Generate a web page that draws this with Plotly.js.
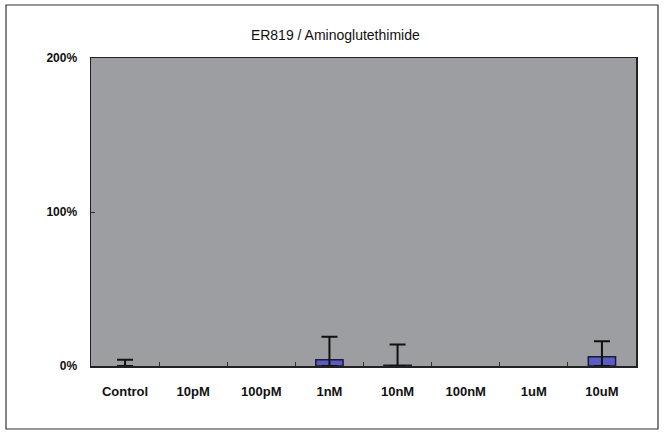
<!DOCTYPE html>
<html><head><meta charset="utf-8">
<script src="https://cdn.plot.ly/plotly-3.0.1.min.js"></script>
<style>html,body{margin:0;padding:0;background:#fff;}#c{width:664px;height:434px;}</style>
</head><body><div id="c"></div>
<script>
const categories = ["Control","10pM","100pM","1nM","10nM","100nM","1uM","10uM"];
const values = [0, 0, 0, 4, 0.5, 0, 0, 6];
const errors = [4, 0, 0, 15, 13.5, 0, 0, 10];
const yTickVals = [0, 100, 200];
const yTickText = ["0%", "100%", "200%"];

const trace = {
  type: "bar", x: categories, y: values,
  marker: {color: "#5a5cc0", line: {color: "#1a1a3a", width: values.map(v => v > 0 ? 1.5 : 0)}},
  error_y: {type: "data", array: errors.map(e => e > 0 ? e : NaN), visible: true, symmetric: false,
    arrayminus: errors.map((e, i) => e > 0 ? values[i] : NaN), color: "#111", thickness: 2, width: 8},
  hoverinfo: "none"
};
const layout = {
  width: 664, height: 434,
  margin: {l: 91, r: 28, t: 58, b: 68},
  paper_bgcolor: "#ffffff", plot_bgcolor: "#9d9ea2",
  bargap: 0.6, showlegend: false,
  title: {text: "ER819 / Aminoglutethimide", x: 0.505, xanchor: "center", y: 0.92, yanchor: "middle",
    font: {family: "Liberation Sans, Arial, sans-serif", size: 14, color: "#111", weight: 500}},
  font: {family: "Liberation Sans, Arial, sans-serif", size: 12, color: "#111"},
  xaxis: {type: "category", tickson: "boundaries", ticks: "inside", ticklen: 4, tickcolor: "#333",
    showline: true, linecolor: "#222", linewidth: 1.5, mirror: true, showgrid: false,
    ticklabelstandoff: 13, tickfont: {size: 13, weight: "bold"}},
  yaxis: {range: [0, 200], tickvals: yTickVals, ticktext: yTickText, ticks: "inside", ticklen: 4, tickcolor: "#333",
    showline: true, linecolor: "#222", linewidth: 1.5, mirror: true, showgrid: false, zeroline: false,
    ticklabelstandoff: 10, tickfont: {size: 12, weight: "bold"}},
  shapes: [{type: "rect", xref: "paper", yref: "paper",
    x0: -85/545, x1: 1 + 22/545, y0: -63/308, y1: 1 + 53/308,
    line: {color: "#333", width: 1.2}, fillcolor: "rgba(0,0,0,0)"}]
};
Plotly.newPlot("c", [trace], layout, {staticPlot: true});
</script></body></html>
